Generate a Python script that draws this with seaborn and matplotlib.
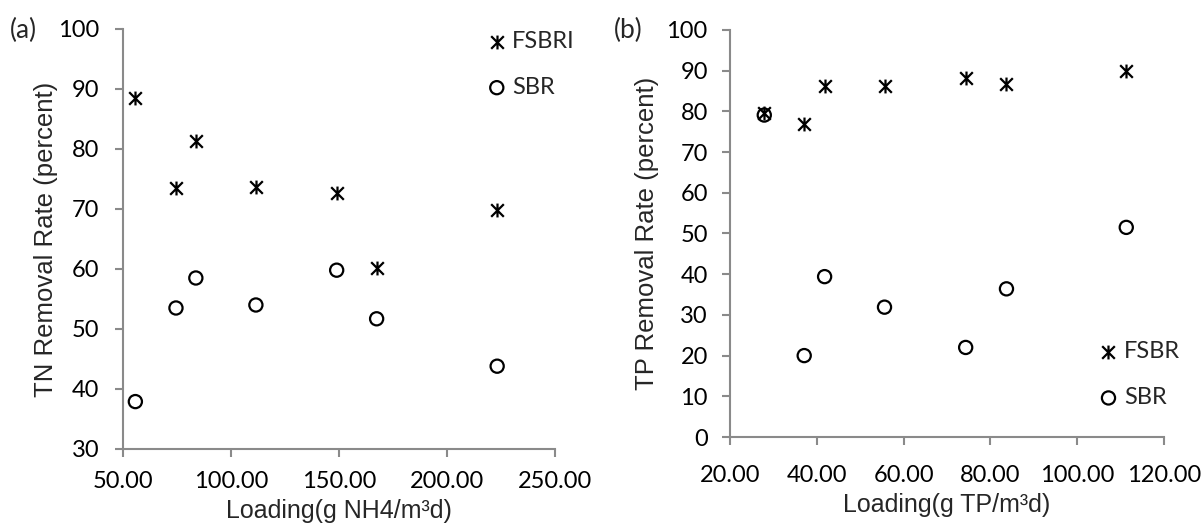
import matplotlib
matplotlib.use("Agg")
import matplotlib.pyplot as plt
from matplotlib.path import Path
from matplotlib.ticker import FormatStrFormatter, MultipleLocator
import seaborn as sns

# (a) nitrogen removal
tn_loading = [55.7, 74.5, 83.7, 111.5, 148.9, 167.4, 223.2]
tn_fsbri = [88.5, 73.5, 81.3, 73.7, 72.7, 60.1, 69.9]
tn_sbr = [37.9, 53.5, 58.5, 54.0, 59.8, 51.7, 43.8]

# (b) phosphorus removal
tp_loading = [27.9, 37.1, 41.8, 55.6, 74.3, 83.7, 111.3]
tp_fsbr = [79.7, 76.9, 86.3, 86.3, 88.3, 86.8, 89.8]
tp_sbr = [79.1, 20.0, 39.4, 31.9, 22.0, 36.4, 51.5]

sns.set_style("ticks")
plt.rcParams["font.family"] = ["Lato", "DejaVu Sans"]

AXIS_GREY = "#8a8a8a"
LABEL_FONT = "Liberation Sans"
TICK_SIZE = 17

# excel-like star marker: an x with a vertical bar through it
star = Path(
    [(-1, -1), (1, 1), (-1, 1), (1, -1), (0, -1.1), (0, 1.1)],
    [Path.MOVETO, Path.LINETO] * 3,
)


def draw_panel(ax, x, y_f, y_s, f_label, xlabel, ylabel, xlim, xstep, ylim):
    sns.scatterplot(x=x, y=y_f, ax=ax, marker=star, s=100, color="black",
                    edgecolor="black", linewidth=1.6, label=f_label)
    sns.scatterplot(x=x, y=y_s, ax=ax, marker="o", s=90, color="black",
                    edgecolor="black", linewidth=1.6, label="SBR")
    ax.collections[-1].set_facecolor("none")

    ax.set_xlim(*xlim)
    ax.set_ylim(*ylim)
    ax.xaxis.set_major_locator(MultipleLocator(xstep))
    ax.yaxis.set_major_locator(MultipleLocator(10))
    ax.xaxis.set_major_formatter(FormatStrFormatter("%.2f"))

    sns.despine(ax=ax)
    for side in ("left", "bottom"):
        ax.spines[side].set_color(AXIS_GREY)
        ax.spines[side].set_linewidth(1.5)
    ax.tick_params(axis="both", labelsize=TICK_SIZE, length=6, width=1.5,
                   color=AXIS_GREY, labelcolor="black")

    ax.set_xlabel(xlabel, fontsize=18, fontfamily=LABEL_FONT)
    ax.set_ylabel(ylabel, fontsize=18.5, fontfamily=LABEL_FONT)


fig = plt.figure(figsize=(12.04, 5.26), dpi=100)
ax_a = fig.add_axes([0.1022, 0.1464, 0.3588, 0.7985])
ax_b = fig.add_axes([0.6063, 0.1692, 0.3605, 0.7738])

draw_panel(ax_a, tn_loading, tn_fsbri, tn_sbr, "FSBRI",
           "Loading(g NH4/m\u00b3d)", "TN Removal Rate (percent)",
           (50, 250), 50, (30, 100))
draw_panel(ax_b, tp_loading, tp_fsbr, tp_sbr, "FSBR",
           "Loading(g TP/m\u00b3d)", "TP Removal Rate (percent)",
           (20, 120), 20, (0, 100))

ax_a.tick_params(axis="x", pad=10)
ax_a.tick_params(axis="y", pad=11)
ax_b.tick_params(axis="x", pad=14)
ax_b.tick_params(axis="y", pad=10)

ax_a.yaxis.set_label_coords(-0.150, 0.5)
ax_a.xaxis.set_label_coords(0.5, -0.119)
ax_b.yaxis.set_label_coords(-0.163, 0.5)
ax_b.xaxis.set_label_coords(0.5, -0.138)

leg_kw = dict(frameon=False, loc="upper left", fontsize=TICK_SIZE, borderpad=0,
              borderaxespad=0, handlelength=0.7, handletextpad=0.3,
              labelspacing=1.05)
ax_a.legend(bbox_to_anchor=(0.846, 0.995), **leg_kw)
ax_b.legend(bbox_to_anchor=(0.853, 0.235), **leg_kw)

fig.text(0.008, 0.943, "(a)", fontsize=19, va="center")
fig.text(0.51, 0.943, "(b)", fontsize=19, va="center")

fig.savefig("out.png", dpi=100)
